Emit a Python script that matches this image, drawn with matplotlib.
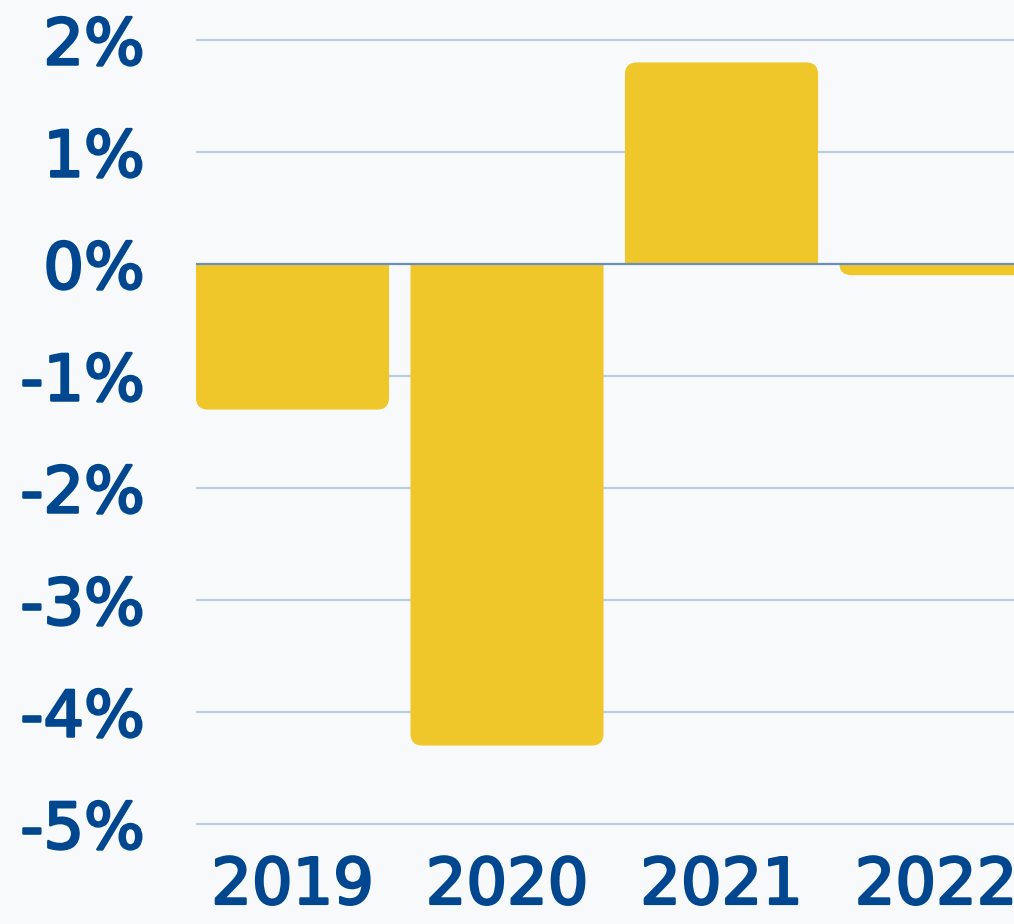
import matplotlib.pyplot as plt
import matplotlib.patheffects as pe
from matplotlib.path import Path
from matplotlib.patches import PathPatch

# data
years = ["2019", "2020", "2021", "2022"]
growth = [-1.3, -4.3, 1.8, -0.1]
yticks = [2, 1, 0, -1, -2, -3, -4, -5]

BG = "#f7f9fb"
BAR = "#efc72b"
TXT = "#00478f"
GRID = "#b9cce0"
ZERO = "#6a8fbb"

W, H = 1014, 924
fig = plt.figure(figsize=(W / 100, H / 100), dpi=100, facecolor=BG)
# axes placed in pixels: left 196, top 0, bottom 834
ax = fig.add_axes([196 / W, (H - 834) / H, 1 - 196 / W, 834 / H])
ax.set_facecolor(BG)

bw = 0.9
ax.set_xlim(-0.45, -0.45 + 818 / 214.5)
ax.set_ylim(-5 - 10 / 112, 2 + 40 / 112)

# rounded corners only on the far end of each bar
rx = 12 / 214.5
ry_full = 12 / 112


def rounded_bar(x, v):
    x0, x1 = x - bw / 2, x + bw / 2
    s = 1 if v >= 0 else -1
    ry = min(ry_full, abs(v))
    verts = [(x0, 0), (x0, v - s * ry), (x0, v), (x0 + rx, v),
             (x1 - rx, v), (x1, v), (x1, v - s * ry), (x1, 0), (x0, 0)]
    codes = [Path.MOVETO, Path.LINETO, Path.CURVE3, Path.CURVE3,
             Path.LINETO, Path.CURVE3, Path.CURVE3, Path.LINETO, Path.CLOSEPOLY]
    return PathPatch(Path(verts, codes), facecolor=BAR, edgecolor="none", zorder=3)


for i, v in enumerate(growth):
    ax.add_patch(rounded_bar(i, v))

for t in yticks:
    if t == 0:
        continue
    ax.axhline(t, color=GRID, lw=1.6, zorder=1)
ax.axhline(0, color=ZERO, lw=1.6, zorder=4)

ax.set_yticks(yticks)
ax.set_yticklabels([f"{t}%" for t in yticks])
ax.set_xticks(range(len(years)))
ax.set_xticklabels(years)

for s in ax.spines.values():
    s.set_visible(False)
ax.tick_params(length=0, colors=TXT, labelsize=46)
ax.tick_params(axis="y", pad=37)
ax.tick_params(axis="x", pad=15)
# slightly heavier strokes, closer to the semibold face of the original
thick = [pe.withStroke(linewidth=1.8, foreground=TXT)]
for lab in ax.get_xticklabels() + ax.get_yticklabels():
    lab.set_fontfamily("DejaVu Sans")
    lab.set_color(TXT)
    lab.set_path_effects(thick)

fig.savefig("out.png", dpi=100, facecolor=BG)
